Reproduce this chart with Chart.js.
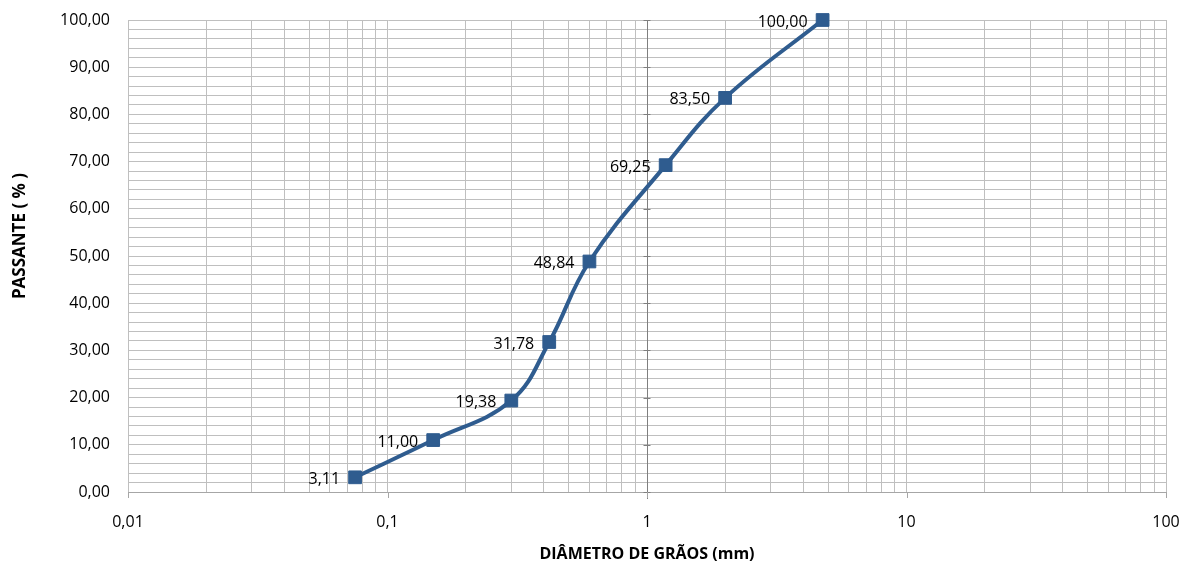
<!DOCTYPE html>
<html>
<head>
<meta charset="utf-8">
<script src="https://cdn.jsdelivr.net/npm/chart.js@4.4.1/dist/chart.umd.min.js"></script>
<style>
  html, body { margin: 0; padding: 0; background: #fff; }
  #wrap { width: 1182px; height: 567px; }
</style>
</head>
<body>
<div id="wrap"><canvas id="chart"></canvas></div>
<script>
// curva granulometrica
var diametros = [0.075, 0.15, 0.3, 0.42, 0.6, 1.18, 2.0, 4.75];
var passante = [3.11, 11.00, 19.38, 31.78, 48.84, 69.25, 83.50, 100.00];
var decadas = [0.01, 0.1, 1, 10, 100];
var yMax = 100;

var FONT = "'Open Sans', sans-serif";
var COR = '#2F5C8F';
var GRADE = '#BFBFBF';

function virgula(n, casas) {
    return n.toFixed(casas).replace('.', ',');
}

// linhas de grade do eixo log: 1..9 em cada decada
function gradeX() {
    var vals = [];
    for (var i = 0; i < decadas.length - 1; i++) {
        for (var k = 1; k < 10; k++) {
            vals.push(+(decadas[i] * k).toPrecision(3));
        }
    }
    vals.push(decadas[decadas.length - 1]);
    return vals;
}

var extras = {
    id: 'extras',
    beforeDatasetsDraw: function(chart) {
        var ctx = chart.ctx, a = chart.chartArea;
        var x = chart.scales.x, y = chart.scales.y;
        ctx.save();
        // eixo vertical cruzando em 1
        var x1 = Math.round(x.getPixelForValue(1)) + 0.5;
        ctx.strokeStyle = '#7F7F7F';
        ctx.lineWidth = 1;
        ctx.beginPath();
        ctx.moveTo(x1, a.top);
        ctx.lineTo(x1, a.bottom + 7);
        for (var v = 0; v <= yMax; v += 10) {
            var py = Math.round(y.getPixelForValue(v)) + 0.5;
            ctx.moveTo(x1 - 4, py);
            ctx.lineTo(x1 + 3, py);
        }
        ctx.stroke();
        // marcas das decadas no eixo x
        ctx.strokeStyle = '#A6A6A6';
        ctx.beginPath();
        decadas.forEach(function(d) {
            var px = Math.round(x.getPixelForValue(d)) + 0.5;
            ctx.moveTo(px, a.bottom);
            ctx.lineTo(px, a.bottom + 6);
        });
        ctx.stroke();
        // titulo do eixo y
        ctx.translate(20, 236);
        ctx.rotate(-Math.PI / 2);
        ctx.font = 'bold 17px ' + FONT;
        ctx.fillStyle = '#000';
        ctx.textAlign = 'center';
        ctx.textBaseline = 'middle';
        ctx.fillText('PASSANTE ( % )', 0, 0);
        ctx.restore();
    },
    afterDatasetsDraw: function(chart) {
        var ctx = chart.ctx;
        var meta = chart.getDatasetMeta(0);
        ctx.save();
        ctx.font = '16px ' + FONT;
        ctx.fillStyle = '#000';
        ctx.textAlign = 'right';
        ctx.textBaseline = 'middle';
        meta.data.forEach(function(pt, i) {
            ctx.fillText(virgula(passante[i], 2), pt.x - 15, pt.y + 2);
        });
        ctx.restore();
    }
};

var ctx = document.getElementById('chart').getContext('2d');
var myChart = new Chart(ctx, {
    type: 'line',
    data: {
        datasets: [{
            data: diametros.map(function(d, i) { return {x: d, y: passante[i]}; }),
            borderColor: COR,
            backgroundColor: COR,
            borderWidth: 4,
            tension: 0.4,
            pointStyle: 'rect',
            pointRadius: 9,
            pointHoverRadius: 9,
            pointBorderWidth: 1,
            pointBorderColor: COR,
            pointBackgroundColor: COR,
            clip: false
        }]
    },
    options: {
        responsive: true,
        maintainAspectRatio: false,
        animation: false,
        events: [],
        layout: { padding: { left: 0, right: 16, top: 20, bottom: 0 } },
        plugins: { legend: { display: false }, tooltip: { enabled: false } },
        scales: {
            x: {
                type: 'logarithmic',
                min: decadas[0],
                max: decadas[decadas.length - 1],
                afterBuildTicks: function(scale) {
                    scale.ticks = gradeX().map(function(v) { return {value: v}; });
                },
                afterFit: function(scale) {
                    scale.height = 75;
                    scale.paddingLeft = 0;
                    scale.paddingRight = 0;
                },
                grid: { color: GRADE, lineWidth: 1, drawTicks: false },
                border: { color: '#A6A6A6' },
                ticks: {
                    autoSkip: false,
                    maxRotation: 0,
                    padding: 21,
                    color: '#000',
                    font: { family: FONT, size: 16 },
                    callback: function(v) {
                        if (decadas.indexOf(v) < 0) return '';
                        return String(v).replace('.', ',');
                    }
                },
                title: {
                    display: true,
                    text: 'DIÂMETRO DE GRÃOS (mm)',
                    color: '#000',
                    font: { family: FONT, size: 16, weight: 'bold' },
                    padding: { top: 0, bottom: 3 }
                }
            },
            y: {
                min: 0,
                max: yMax,
                afterBuildTicks: function(scale) {
                    var t = [];
                    for (var v = 0; v <= yMax; v += 2) t.push({value: v});
                    scale.ticks = t;
                },
                afterFit: function(scale) {
                    scale.width = 128;
                    scale.paddingTop = 0;
                    scale.paddingBottom = 0;
                },
                grid: { color: GRADE, lineWidth: 1, drawTicks: false },
                border: { color: GRADE },
                ticks: {
                    autoSkip: false,
                    padding: 18,
                    color: '#000',
                    font: { family: FONT, size: 16 },
                    callback: function(v) {
                        return v % 10 === 0 ? virgula(v, 2) : '';
                    }
                }
            }
        }
    },
    plugins: [extras]
});
</script>
</body>
</html>
